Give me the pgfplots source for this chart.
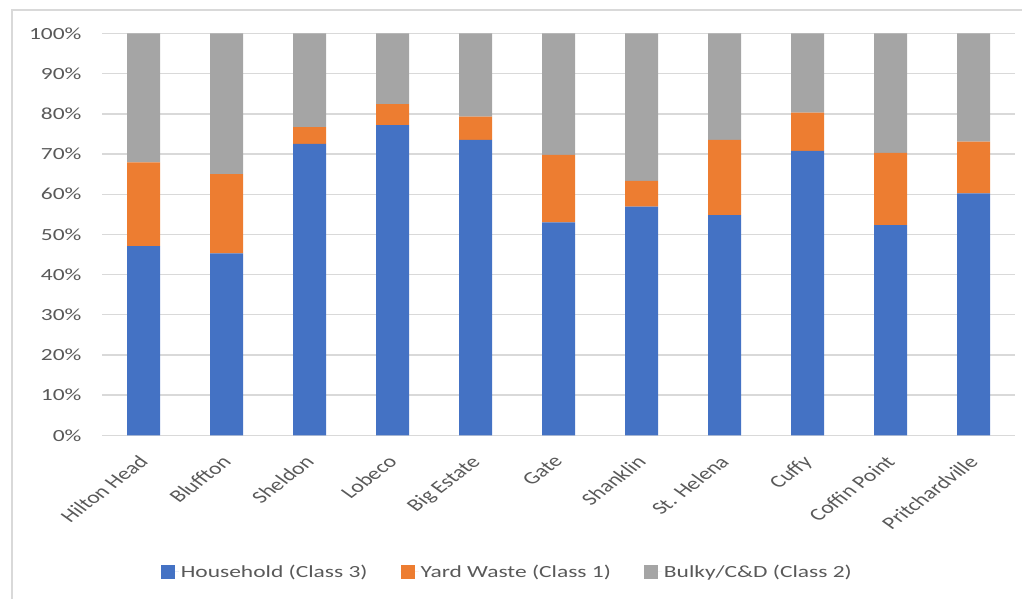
\documentclass[border=0pt]{standalone}
\usepackage{fontspec}
\setmainfont[FakeStretch=1.38]{Carlito}
\newfontfamily\plainfont{Carlito}
\usepackage{pgfplots}
\usepackage{pgfplotstable}
\pgfplotsset{compat=1.18}
\definecolor{cblue}{HTML}{4472C4}
\definecolor{corange}{HTML}{ED7D31}
\definecolor{cgray}{HTML}{A5A5A5}
\definecolor{cgrid}{HTML}{D9D9D9}
\definecolor{ctext}{HTML}{595959}

\pgfplotstableread{
x hh yw bk
0 47.1 20.8 32.1
1 45.3 19.7 35.0
2 72.5 4.2 23.3
3 77.2 5.2 17.6
4 73.5 5.8 20.7
5 53.0 16.8 30.2
6 56.9 6.4 36.7
7 54.8 18.7 26.5
8 70.8 9.5 19.7
9 52.3 18.0 29.7
10 60.2 12.9 26.9
}\data

\begin{document}
\begin{tikzpicture}[x=1pt,y=1pt]
\path[use as bounding box] (0,0) rectangle (1022,599);
\draw[cgrid, line width=1.5pt] (12,-10) -- (12,589) -- (1040,589);
\begin{axis}[
  at={(102pt,163.7pt)}, anchor=south west,
  width=913pt, height=401.8pt, scale only axis,
  ybar stacked, bar width=33pt,
  xmin=-0.5, xmax=10.5, ymin=0, ymax=100,
  xtick={0,...,10},
  xticklabels={Hilton Head,Bluffton,Sheldon,Lobeco,Big Estate,Gate,Shanklin,St. Helena,Cuffy,Coffin Point,Pritchardville},
  ytick={0,10,...,100},
  yticklabels={0\%,10\%,20\%,30\%,40\%,50\%,60\%,70\%,80\%,90\%,100\%},
  ymajorgrids, major grid style={cgrid, line width=1.3pt},
  axis line style={draw=none}, major tick length=0pt,
  tick label style={font=\fontsize{17}{20}\selectfont, text=ctext},
  xticklabel style={font=\plainfont\fontsize{17.5}{20}\selectfont,
    xshift=-6pt, yshift=-19pt, xscale=1.35, rotate=46, anchor=north east, inner sep=0pt},
  yticklabel style={xshift=-17pt},
  legend columns=3,
  legend image code/.code={\fill[#1] (0pt,-7pt) rectangle (14pt,7pt); \path (0pt,0pt) -- (18pt,0pt);},
  legend style={draw=none, fill=none, font=\fontsize{17}{20}\selectfont, text=ctext,
    at={(axis description cs:0.444,-0.34)}, anchor=center,
    /tikz/every even column/.append style={column sep=31pt}},
  legend cell align=left,
]
\addplot[fill=cblue, draw=none] table[x=x,y=hh]{\data};
\addplot[fill=corange, draw=none] table[x=x,y=yw]{\data};
\addplot[fill=cgray, draw=none] table[x=x,y=bk]{\data};
\legend{Household (Class 3),Yard Waste (Class 1),Bulky/C\&D (Class 2)}
\end{axis}
\end{tikzpicture}
\end{document}
